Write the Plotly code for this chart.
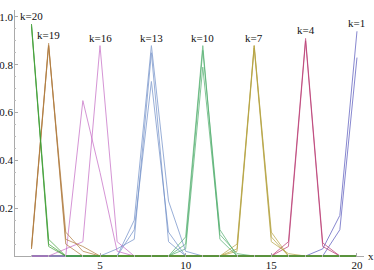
import plotly.graph_objects as go

x = list(range(1, 21))

# values per family (three curves each)
k20_a = [0.97, 0.07, 0, 0, 0, 0, 0, 0, 0, 0, 0, 0, 0, 0, 0, 0, 0, 0, 0, 0]
k20_b = [0.96, 0.05, 0, 0, 0, 0, 0, 0, 0, 0, 0, 0, 0, 0, 0, 0, 0, 0, 0, 0]
k20_c = [0.97, 0.04, 0, 0, 0, 0, 0, 0, 0, 0, 0, 0, 0, 0, 0, 0, 0, 0, 0, 0]

k19_a = [0.04, 0.89, 0.05, 0, 0, 0, 0, 0, 0, 0, 0, 0, 0, 0, 0, 0, 0, 0, 0, 0]
k19_b = [0.03, 0.88, 0.10, 0.02, 0, 0, 0, 0, 0, 0, 0, 0, 0, 0, 0, 0, 0, 0, 0, 0]
k19_c = [0.03, 0.88, 0.07, 0.04, 0, 0, 0, 0, 0, 0, 0, 0, 0, 0, 0, 0, 0, 0, 0, 0]

k16_a = [0, 0, 0.03, 0.06, 0.88, 0.06, 0, 0, 0, 0, 0, 0, 0, 0, 0, 0, 0, 0, 0, 0]
k16_b = [0, 0, 0, 0.65, 0.35, 0.02, 0, 0, 0, 0, 0, 0, 0, 0, 0, 0, 0, 0, 0, 0]

k13_a = [0, 0, 0, 0, 0, 0, 0.15, 0.88, 0.23, 0.02, 0, 0, 0, 0, 0, 0, 0, 0, 0, 0]
k13_b = [0, 0, 0, 0, 0, 0.03, 0.07, 0.85, 0.06, 0, 0, 0, 0, 0, 0, 0, 0, 0, 0, 0]
k13_c = [0, 0, 0, 0, 0, 0, 0.11, 0.73, 0.10, 0, 0, 0, 0, 0, 0, 0, 0, 0, 0, 0]

k10_a = [0, 0, 0, 0, 0, 0, 0, 0, 0, 0.08, 0.88, 0.07, 0, 0, 0, 0, 0, 0, 0, 0]
k10_b = [0, 0, 0, 0, 0, 0, 0, 0, 0, 0.05, 0.86, 0.11, 0, 0, 0, 0, 0, 0, 0, 0]
k10_c = [0, 0, 0, 0, 0, 0, 0, 0, 0, 0.03, 0.79, 0.09, 0.01, 0, 0, 0, 0, 0, 0, 0]

k7_a = [0, 0, 0, 0, 0, 0, 0, 0, 0, 0, 0, 0, 0.05, 0.88, 0.10, 0, 0, 0, 0, 0]
k7_b = [0, 0, 0, 0, 0, 0, 0, 0, 0, 0, 0, 0, 0.03, 0.88, 0.08, 0, 0, 0, 0, 0]
k7_c = [0, 0, 0, 0, 0, 0, 0, 0, 0, 0, 0, 0, 0.02, 0.87, 0.06, 0.01, 0, 0, 0, 0]

k4_a = [0, 0, 0, 0, 0, 0, 0, 0, 0, 0, 0, 0, 0, 0, 0, 0.06, 0.91, 0.055, 0, 0]
k4_b = [0, 0, 0, 0, 0, 0, 0, 0, 0, 0, 0, 0, 0, 0, 0, 0.04, 0.90, 0.04, 0, 0]

k1_a = [0, 0, 0, 0, 0, 0, 0, 0, 0, 0, 0, 0, 0, 0, 0, 0, 0, 0.03, 0.17, 0.94]
k1_b = [0, 0, 0, 0, 0, 0, 0, 0, 0, 0, 0, 0, 0, 0, 0, 0, 0, 0, 0.11, 0.83]

families = [
    ("k=1", "#5656bc", [k1_a, k1_b]),
    ("k=4", "#b8346e", [k4_a, k4_b]),
    ("k=7", "#b5a23e", [k7_a, k7_b, k7_c]),
    ("k=10", "#4fae6c", [k10_a, k10_b, k10_c]),
    ("k=13", "#6f8ec8", [k13_a, k13_b, k13_c]),
    ("k=16", "#c468c4", [k16_a, k16_b]),
    ("k=19", "#b07a3c", [k19_a, k19_b, k19_c]),
    ("k=20", "#3f9f35", [k20_a, k20_b, k20_c]),
]

serif = "Liberation Serif, Times New Roman, DejaVu Serif, serif"

fig = go.Figure()
annotations = []
for label, color, series in families:
    for s in series:
        fig.add_trace(go.Scatter(x=x, y=s, mode="lines",
                                 line=dict(color=color, width=1),
                                 opacity=0.7, showlegend=False,
                                 hoverinfo="skip"))
    peak_val = max(max(s) for s in series)
    peak_x = x[series[0].index(max(series[0]))]
    annotations.append(dict(x=peak_x, y=peak_val, xref="x", yref="y",
                            text=label, showarrow=False, yanchor="middle",
                            yshift=8,
                            font=dict(family=serif, size=11, color="#111")))

annotations.append(dict(x=1.0, y=0, xref="paper", yref="y", text="x",
                        showarrow=False, xanchor="left", yanchor="middle",
                        xshift=2,
                        font=dict(family=serif, size=11, color="#111")))

axis_font = dict(family=serif, size=11, color="#111")
fig.update_layout(
    width=374, height=270,
    margin=dict(l=14, r=10, t=10, b=13, autoexpand=False),
    paper_bgcolor="white", plot_bgcolor="white",
    font=dict(family=serif),
    annotations=annotations,
    xaxis=dict(range=[-0.02, 20.41], showgrid=False, zeroline=True,
               automargin=False,
               zerolinecolor="#aaaaaa", zerolinewidth=1, showline=False,
               tickvals=[5, 10, 15, 20], ticktext=["5", "10", "15", "20"],
               ticks="inside", ticklen=4, tickcolor="#aaaaaa",
               minor=dict(ticks="inside", ticklen=2, dtick=1,
                          tickcolor="#bbbbbb", showgrid=False),
               tickfont=axis_font),
    yaxis=dict(range=[-0.004, 1.029], showgrid=False, zeroline=True,
               automargin=False,
               zerolinecolor="#aaaaaa", zerolinewidth=1, showline=False,
               tickvals=[0.2, 0.4, 0.6, 0.8, 1.0],
               ticktext=["0.2", "0.4", "0.6", "0.8", "1.0"],
               ticks="inside", ticklen=4, tickcolor="#aaaaaa",
               minor=dict(ticks="inside", ticklen=2, dtick=0.05,
                          tickcolor="#bbbbbb", showgrid=False),
               tickfont=axis_font),
)

fig.write_html("out.html",
               config={"displayModeBar": False},
               post_script="document.body.style.margin='0';"
                           "document.body.style.padding='0';")
